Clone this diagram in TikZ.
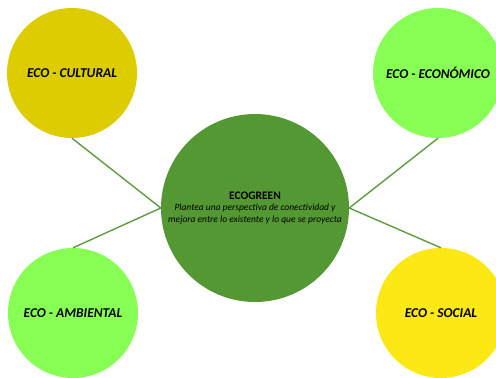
\documentclass[tikz,border=0pt]{standalone}
\usepackage{fontspec}
\setmainfont{Carlito}
\usepackage{tikz}
\usetikzlibrary{positioning}

\definecolor{oliveyel}{RGB}{221,205,0}
\definecolor{lightgr}{RGB}{136,255,85}
\definecolor{midgr}{RGB}{84,152,52}
\definecolor{brightyel}{RGB}{252,232,20}
\definecolor{linegr}{RGB}{95,155,65}

\tikzset{
    branch/.style={circle,minimum size=130pt,inner sep=0pt,font=\fontsize{13.5}{15}\selectfont\bfseries\itshape},
    hub/.style={circle,fill=midgr,minimum size=188pt,inner sep=0pt,align=center},
    link/.style={draw=linegr,line width=1.4pt}
}

\begin{document}
\begin{tikzpicture}[x=1pt,y=1pt]
        \useasboundingbox (0,0) rectangle (496,-378);
        \clip (0,0) rectangle (496,-378);

        \node[branch,fill=oliveyel](cultural) at (72,-73){ECO - CULTURAL};
        \node[branch,fill=lightgr](economico) at (438,-73){ECO - ECONÓMICO};
        \node[branch,fill=lightgr](ambiental) at (73,-313){ECO - AMBIENTAL};
        \node[branch,fill=brightyel](social) at (441,-313){ECO - SOCIAL};

        \node[hub](eco) at (255,-208){{\fontsize{11.5}{14}\selectfont\bfseries ECOGREEN}\\[-1pt]
            {\fontsize{9.5}{14}\selectfont\itshape Plantea una perspectiva de conectividad y}\\
            {\fontsize{9.5}{14}\selectfont\itshape mejora entre lo existente y lo que se proyecta}};

        \path[link]
        (cultural.south) -- (eco.west)
        (ambiental.north) -- (eco.west)
        (economico.south) -- (eco.east)
        (social.north) -- (eco.east);
    \end{tikzpicture}
\end{document}
